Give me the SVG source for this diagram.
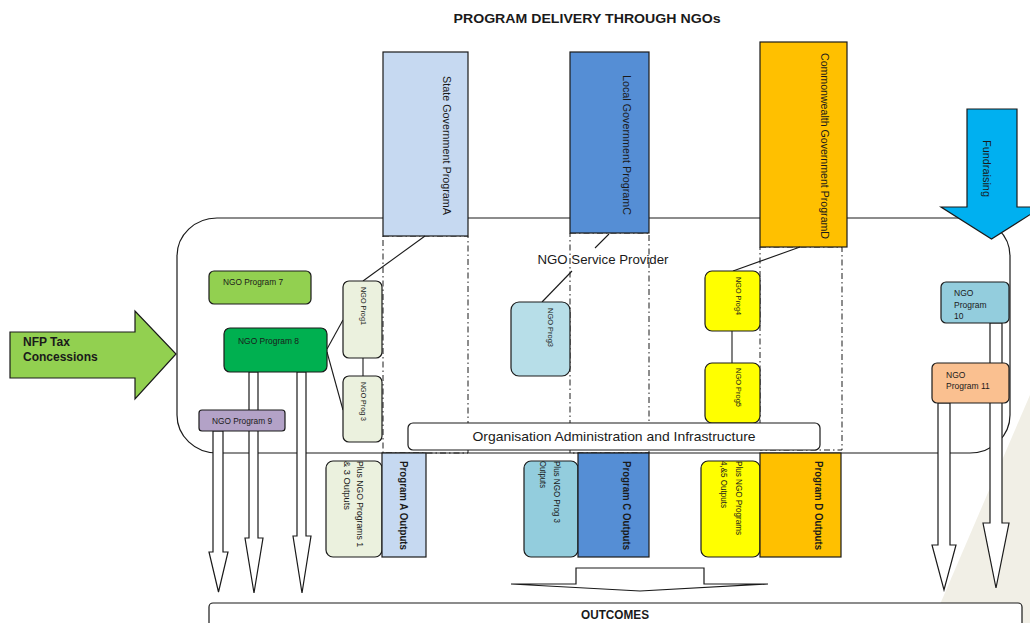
<svg xmlns="http://www.w3.org/2000/svg" width="1030" height="623" viewBox="0 0 1030 623">
<style>
text{font-family:"Liberation Sans",Arial,sans-serif;fill:#1a1a1a}
.b{stroke:#1a1a1a;stroke-width:1.2}
.dash{fill:none;stroke:#1a1a1a;stroke-width:1;stroke-dasharray:6,3,1.5,3}
.ln{stroke:#1a1a1a;stroke-width:1.1;fill:none}
.arr{fill:#fff;stroke:#1a1a1a;stroke-width:1.2;stroke-linejoin:miter}
.sm{font-size:8.5px}
.vt{font-size:7px}
.vs{font-size:11.5px}
.vo{font-size:11px;font-weight:bold}
.vp{font-size:9px}
</style>
<rect width="1030" height="623" fill="#fff"/>
<polygon points="1030,395 932,623 1030,623" fill="#f1efe6"/>
<text x="587" y="23" text-anchor="middle" font-size="12" font-weight="bold" textLength="267" lengthAdjust="spacingAndGlyphs">PROGRAM DELIVERY THROUGH NGOs</text>

<g id="ngo-service-provider">
<rect x="177" y="218" width="833" height="235" rx="40" ry="38" fill="#fff" class="b"/>
<text x="603" y="264" text-anchor="middle" font-size="13" textLength="131" lengthAdjust="spacingAndGlyphs">NGO Service Provider</text>
</g>

<g id="dashed-zones">
<rect x="383" y="236" width="85" height="217" class="dash"/>
<rect x="570" y="233" width="79" height="220" class="dash"/>
<rect x="760" y="247" width="82" height="203" class="dash"/>
</g>

<g id="state-gov">
<rect x="383" y="52" width="85" height="184" fill="#c6d9f1" class="b"/>
<text class="vs" transform="translate(443,76) rotate(90)" textLength="139" lengthAdjust="spacingAndGlyphs">State Government ProgramA</text>
</g>
<g id="local-gov">
<rect x="570" y="52" width="79" height="181" fill="#558ed5" class="b"/>
<text class="vs" transform="translate(623,75) rotate(90)" textLength="140" lengthAdjust="spacingAndGlyphs">Local Government ProgramC</text>
</g>
<g id="commonwealth-gov">
<rect x="760" y="42" width="87" height="205" fill="#ffc000" class="b"/>
<text class="vs" transform="translate(821,53) rotate(90)" textLength="186" lengthAdjust="spacingAndGlyphs">Commonwealth Government ProgramD</text>
</g>

<g id="fundraising">
<polygon points="967,109 1017,109 1017,207 1042,207 991.5,239 941,207 967,207" fill="#00b0f0" class="b"/>
<text font-size="11" transform="translate(983,140) rotate(90)" textLength="57" lengthAdjust="spacingAndGlyphs">Fundraising</text>
</g>

<g id="nfp-tax">
<polygon points="10,332 135,332 135,311 176,354 135,399 135,378 10,378" fill="#92d050" class="b"/>
<text x="23" y="346" font-size="12" font-weight="bold">NFP Tax</text>
<text x="23" y="361" font-size="12" font-weight="bold">Concessions</text>
</g>

<g id="connectors">
<line class="ln" x1="425" y1="236" x2="363" y2="281"/>
<line class="ln" x1="327" y1="349" x2="343" y2="320"/>
<line class="ln" x1="327" y1="352" x2="343" y2="410"/>
<line class="ln" x1="363" y1="358" x2="363" y2="376"/>
<line class="ln" x1="609" y1="234" x2="595" y2="248"/>
<line class="ln" x1="572" y1="271" x2="542" y2="302"/>
<line class="ln" x1="800" y1="247" x2="733" y2="271"/>
<line class="ln" x1="732" y1="331" x2="732" y2="363"/>
<polygon class="arr" points="213,431 223,431 223,552 228,552 218.5,592 209,552 213,552"/>
<polygon class="arr" points="249,372 258,372 258,538 263,538 254,593 245,538 249,538"/>
<polygon class="arr" points="297,372 306,372 306,536 311,536 302,593 293,536 297,536"/>
<polygon class="arr" points="938,403 950,403 950,545 956,545 944,590 932,545 938,545"/>
<polygon class="arr" points="990,323 1002,323 1002,523 1009,523 996,588 983,523 990,523"/>
<polygon class="arr" points="511,584 576,584 576,568 704,568 704,584 768,584 640,591"/>
</g>

<g id="ngo-program-7">
<rect x="209" y="271" width="102" height="33" rx="5" fill="#92d050" class="b"/>
<text x="223" y="285" class="sm" textLength="60" lengthAdjust="spacingAndGlyphs">NGO Program 7</text>
</g>
<g id="ngo-program-8">
<rect x="224" y="328" width="103" height="44" rx="6" fill="#00b050" class="b"/>
<text x="238" y="344" class="sm" textLength="61" lengthAdjust="spacingAndGlyphs">NGO Program 8</text>
</g>
<g id="ngo-program-9">
<rect x="199" y="410" width="86" height="21" rx="3" fill="#b3a2c7" class="b"/>
<text x="212" y="424" class="sm" textLength="60" lengthAdjust="spacingAndGlyphs">NGO Program 9</text>
</g>
<g id="ngo-prog1">
<rect x="343" y="281" width="39" height="77" rx="6" fill="#ebf1de" class="b"/>
<text class="vt" transform="translate(360.5,287) rotate(90)" textLength="38" lengthAdjust="spacingAndGlyphs">NGO Prog1</text>
</g>
<g id="ngo-prog3-left">
<rect x="343" y="376" width="39" height="66" rx="6" fill="#ebf1de" class="b"/>
<text class="vt" transform="translate(360.5,382) rotate(90)" textLength="39" lengthAdjust="spacingAndGlyphs">NGO Prog 3</text>
</g>
<g id="ngo-prog3-mid">
<rect x="511" y="302" width="59" height="74" rx="8" fill="#b7dee8" class="b"/>
<text class="vt" transform="translate(547.5,308) rotate(90)" textLength="39" lengthAdjust="spacingAndGlyphs">NGO Prog3</text>
</g>
<g id="ngo-prog4">
<rect x="705" y="271" width="55" height="60" rx="7" fill="#ffff00" class="b"/>
<text class="vt" transform="translate(735.5,277) rotate(90)" textLength="38" lengthAdjust="spacingAndGlyphs">NGO Prog4</text>
</g>
<g id="ngo-prog5">
<rect x="705" y="363" width="55" height="60" rx="7" fill="#ffff00" class="b"/>
<text class="vt" transform="translate(735.5,368) rotate(90)" textLength="39" lengthAdjust="spacingAndGlyphs">NGO Prog5</text>
</g>
<g id="ngo-program-10">
<rect x="941" y="282" width="68" height="41" rx="5" fill="#93cddd" class="b"/>
<text x="954" y="296" class="sm">NGO</text>
<text x="954" y="307.5" class="sm">Program</text>
<text x="954" y="319" class="sm">10</text>
</g>
<g id="ngo-program-11">
<rect x="932" y="363" width="77" height="40" rx="5" fill="#fac090" class="b"/>
<text x="946" y="378" class="sm">NGO</text>
<text x="946" y="389" class="sm">Program 11</text>
</g>

<g id="org-admin">
<rect x="408" y="423" width="412" height="27" rx="5" fill="#fff" class="b"/>
<text x="614" y="441" text-anchor="middle" font-size="13" textLength="283" lengthAdjust="spacingAndGlyphs">Organisation Administration and Infrastructure</text>
</g>

<g id="plus-outputs-1-3">
<rect x="326" y="461" width="56" height="96" rx="7" fill="#ebf1de" class="b"/>
<text class="vp" transform="translate(357,461) rotate(90)" textLength="86" lengthAdjust="spacingAndGlyphs">Plus NGO Programs 1</text>
<text class="vp" transform="translate(344,461) rotate(90)" textLength="49" lengthAdjust="spacingAndGlyphs">&amp; 3 Outputs</text>
</g>
<g id="program-a-outputs">
<rect x="382" y="453" width="44" height="104" fill="#c6d9f1" class="b"/>
<text class="vo" transform="translate(400,461) rotate(90)" textLength="89" lengthAdjust="spacingAndGlyphs">Program A Outputs</text>
</g>
<g id="plus-outputs-3">
<rect x="524" y="461" width="54" height="96" rx="7" fill="#93cddd" class="b"/>
<text class="vp" transform="translate(554,461) rotate(90)" textLength="62" lengthAdjust="spacingAndGlyphs">Plus NGO Prog 3</text>
<text class="vp" transform="translate(539.5,461) rotate(90)" textLength="27" lengthAdjust="spacingAndGlyphs">Outputs</text>
</g>
<g id="program-c-outputs">
<rect x="578" y="453" width="71" height="104" fill="#558ed5" class="b"/>
<text class="vo" transform="translate(623,461) rotate(90)" textLength="89" lengthAdjust="spacingAndGlyphs">Program C Outputs</text>
</g>
<g id="plus-outputs-4-5">
<rect x="701" y="461" width="59" height="96" rx="7" fill="#ffff00" class="b"/>
<text class="vp" transform="translate(735.5,461) rotate(90)" textLength="74" lengthAdjust="spacingAndGlyphs">Plus NGO Programs</text>
<text class="vp" transform="translate(721,461) rotate(90)" textLength="47" lengthAdjust="spacingAndGlyphs">4,&amp;5 Outputs</text>
</g>
<g id="program-d-outputs">
<rect x="760" y="453" width="81" height="104" fill="#ffc000" class="b"/>
<text class="vo" transform="translate(815,461) rotate(90)" textLength="89" lengthAdjust="spacingAndGlyphs">Program D Outputs</text>
</g>

<g id="outcomes">
<rect x="209" y="603" width="813" height="40" rx="4" fill="#fff" class="b"/>
<text x="615" y="619" text-anchor="middle" font-size="12" font-weight="bold" textLength="68" lengthAdjust="spacingAndGlyphs">OUTCOMES</text>
</g>
</svg>
